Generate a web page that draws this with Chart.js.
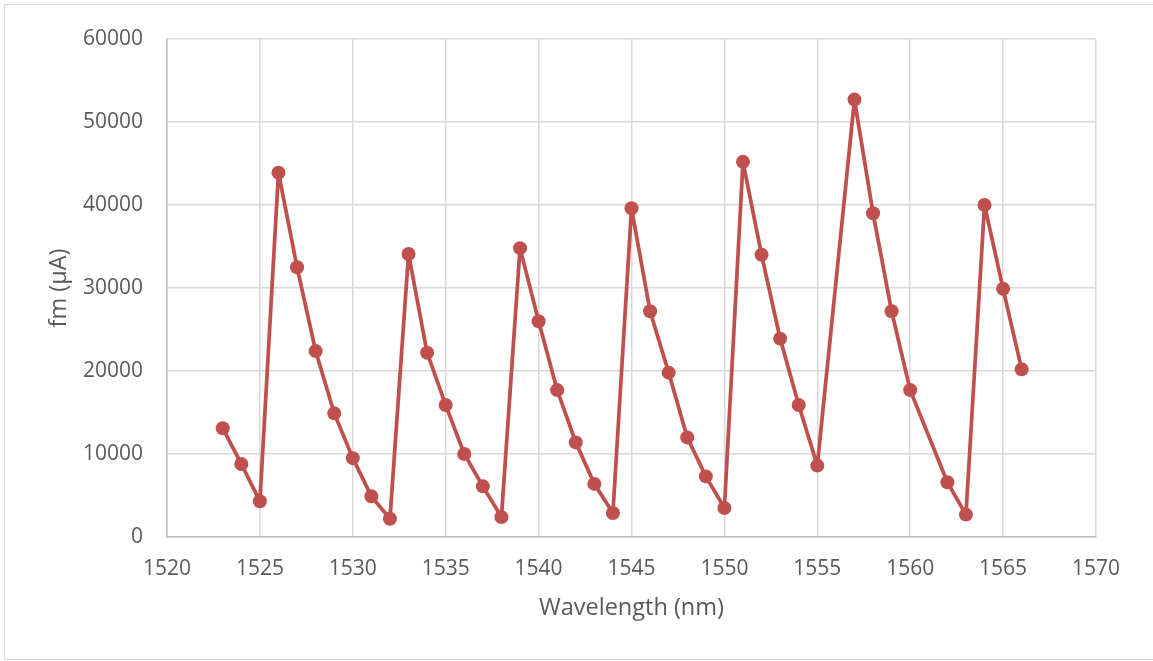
<!DOCTYPE html>
<html>
<head>
<meta charset="utf-8">
<script src="https://cdn.jsdelivr.net/npm/chart.js@4"></script>
<style>
  html, body { margin: 0; padding: 0; background: #fff; }
  #wrap { position: relative; width: 1153px; height: 661px; overflow: hidden; }
  #frame { position: absolute; left: 4px; top: 4px; width: 1170px; height: 656px; border: 1px solid #D9D9D9; box-sizing: border-box; }
  canvas { position: absolute; left: 0; top: 0; }
</style>
</head>
<body>
<div id="wrap">
  <div id="frame"></div>
  <canvas id="c" width="1153" height="661"></canvas>
</div>
<script>
const wavelengths = [1523,1524,1525,1526,1527,1528,1529,1530,1531,1532,1533,1534,1535,1536,1537,1538,1539,1540,1541,1542,1543,1544,1545,1546,1547,1548,1549,1550,1551,1552,1553,1554,1555,1557,1558,1559,1560,1562,1563,1564,1565,1566];
const fmValues = [13100,8800,4300,43900,32500,22400,14900,9500,4900,2200,34100,22200,15900,10000,6100,2400,34800,26000,17700,11400,6400,2900,39600,27200,19800,12000,7300,3500,45200,34000,23900,15900,8600,52700,39000,27200,17700,6600,2700,40000,29900,20200];
const xTicks = [1520,1525,1530,1535,1540,1545,1550,1555,1560,1565,1570];
const yTicks = [0,10000,20000,30000,40000,50000,60000];
const xTitle = 'Wavelength (nm)';
const yTitle = 'fm (µA)';

const points = wavelengths.map((w, i) => ({ x: w, y: fmValues[i] }));
const RED = '#C0504D';
const FONT = "'Open Sans', 'DejaVu Sans', sans-serif";

new Chart(document.getElementById('c'), {
  type: 'line',
  data: {
    datasets: [{
      data: points,
      borderColor: RED,
      backgroundColor: RED,
      borderWidth: 3.75,
      borderJoinStyle: 'round',
      borderCapStyle: 'round',
      pointRadius: 7,
      pointBorderWidth: 0,
      pointBackgroundColor: RED,
      pointHoverRadius: 7,
      tension: 0,
      fill: false
    }]
  },
  options: {
    responsive: false,
    animation: false,
    devicePixelRatio: 1,
    layout: { padding: { left: 4, right: 57, top: 39, bottom: 0 } },
    plugins: { legend: { display: false }, tooltip: { enabled: false } },
    scales: {
      x: {
        type: 'linear',
        min: xTicks[0],
        max: xTicks[xTicks.length - 1],
        afterBuildTicks: s => { s.ticks = xTicks.map(v => ({ value: v })); },
        afterFit: s => { s.height = 124; },
        grid: { color: '#D9D9D9', lineWidth: 1.5, drawTicks: false },
        border: { color: '#BFBFBF', width: 1.5 },
        ticks: { color: '#595959', font: { family: FONT, size: 21 }, padding: 19, maxRotation: 0, autoSkip: false, callback: v => String(v) },
        title: { display: true, text: xTitle, color: '#595959', font: { family: FONT, size: 23.5 }, padding: { bottom: 39 } }
      },
      y: {
        min: yTicks[0],
        max: yTicks[yTicks.length - 1],
        afterBuildTicks: s => { s.ticks = yTicks.map(v => ({ value: v })); },
        afterFit: s => { s.width = 163; },
        grid: { color: '#D9D9D9', lineWidth: 1.5, drawTicks: false },
        border: { color: '#BFBFBF', width: 1.5 },
        ticks: { color: '#595959', font: { family: FONT, size: 21 }, padding: 24, callback: v => String(v) },
        title: { display: true, text: yTitle, color: '#595959', font: { family: FONT, size: 23.5 }, padding: { top: 41 } }
      }
    }
  }
});
</script>
</body>
</html>
